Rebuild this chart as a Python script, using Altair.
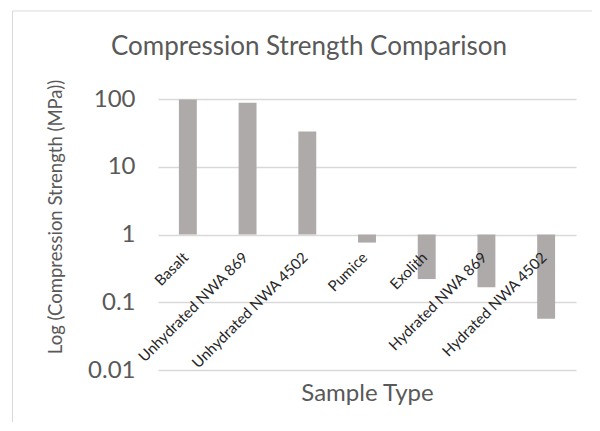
import altair as alt
import pandas as pd

categories = ["Basalt", "Unhydrated NWA 869", "Unhydrated NWA 4502", "Pumice",
              "Exolith", "Hydrated NWA 869", "Hydrated NWA 4502"]
strength = [98, 88, 33, 0.76, 0.22, 0.166, 0.057]
baseline = [1] * len(categories)
y_ticks = [0.01, 0.1, 1, 10, 100]
chart_title = "Compression Strength Comparison"
y_title = "Log (Compression Strength (MPa))"
x_title = "Sample Type"

df = pd.DataFrame({"cat": categories, "val": strength, "base": baseline})

FONT = "Lato"
GREY = "#595959"

xscale = alt.Scale(domain=categories, paddingInner=0.7, paddingOuter=0.35)
yscale = alt.Scale(type="log", domain=[0.01, 100])

base = alt.Chart(df)

bars = base.mark_bar(color="#AEAAAA").encode(
    x=alt.X("cat:N", scale=xscale, sort=categories,
            axis=alt.Axis(labels=False, ticks=False, domain=False, grid=False,
                          title=x_title, titleFont=FONT, titleFontSize=24,
                          titleFontWeight="normal", titleColor=GREY,
                          titleX=209, titleY=30, titleBaseline="alphabetic",
                          titleAlign="center")),
    y=alt.Y("val:Q", scale=yscale,
            axis=alt.Axis(values=y_ticks, format="~g", ticks=False, domain=False,
                          grid=True, gridColor="#D9D9D9", gridWidth=1.5,
                          labelFont=FONT, labelFontSize=24, labelColor=GREY,
                          labelPadding=23, title=y_title, titleFont=FONT,
                          titleFontSize=18.5, titleFontWeight="normal",
                          titleColor=GREY, titleAngle=270, titleX=-97,
                          titleY=117.5, titleAlign="center",
                          titleBaseline="alphabetic")),
    y2="base:Q",
)

labels = base.mark_text(angle=315, align="right", baseline="middle", dx=-16, dy=13,
                        font=FONT, fontSize=15, color="#262626").encode(
    x=alt.X("cat:N", scale=xscale, sort=categories),
    y=alt.Y("base:Q", scale=yscale),
    text="cat:N",
)

title_df = pd.DataFrame({"t": [chart_title]})
title = alt.Chart(title_df).mark_text(font=FONT, fontSize=26, color=GREY,
                                      align="center", baseline="alphabetic").encode(
    x=alt.value(151), y=alt.value(-44), text="t:N")

frame_df = pd.DataFrame({"a": [0]})
top_rule = alt.Chart(frame_df).mark_rule(color="#D9D9D9", strokeWidth=1).encode(
    x=alt.value(-145.5), x2=alt.value(460), y=alt.value(-88))
left_rule = alt.Chart(frame_df).mark_rule(color="#D9D9D9", strokeWidth=1).encode(
    x=alt.value(-145.5), y=alt.value(-88), y2=alt.value(360))

chart = alt.layer(top_rule, left_rule, bars, labels, title).properties(
    width=418, height=271,
    autosize=alt.AutoSizeParams(type="none"),
    padding={"left": 150, "top": 91, "right": 16, "bottom": 52},
).configure_view(stroke=None)

chart.save("out.html", embed_options={"renderer": "svg", "actions": False})
